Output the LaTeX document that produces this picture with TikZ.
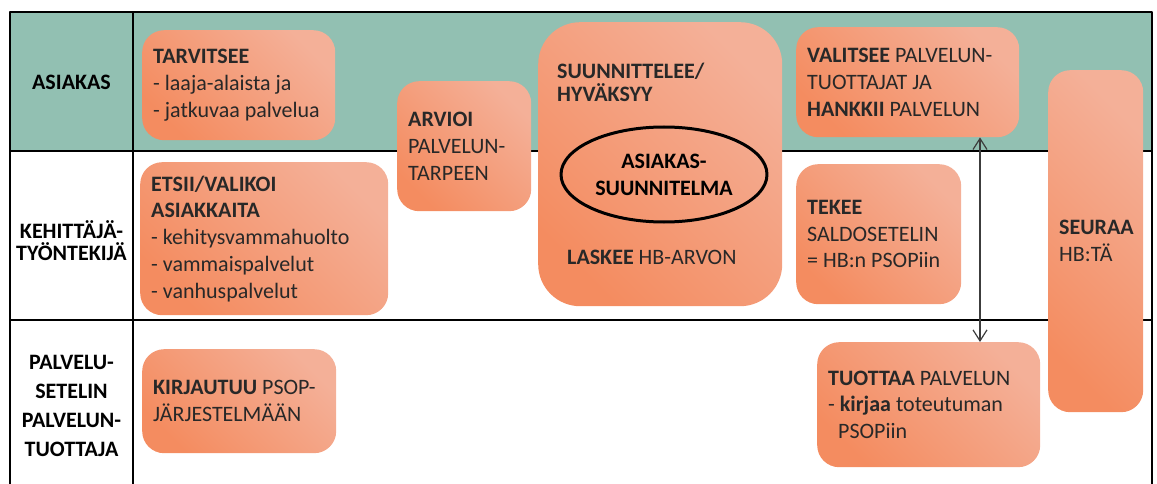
\documentclass[tikz,border=0pt]{standalone}
\usepackage{fontspec}
\setmainfont{Carlito}
\usetikzlibrary{arrows.meta,positioning,shapes.geometric}
\definecolor{tealband}{RGB}{146,192,178}
\definecolor{salmondark}{RGB}{244,140,96}
\definecolor{salmonlight}{RGB}{244,176,152}
\definecolor{inktext}{RGB}{40,40,40}
\definecolor{arrowgray}{RGB}{60,60,60}
\tikzset{
  gridline/.style={line width=2pt,black},
  rowlabel/.style={align=center,inner sep=0pt,text=black,font=\bfseries\fontsize{22}{22}\selectfont},
  taskbox/.style={anchor=north west,rounded corners=22pt,inner sep=0pt,
    left color=salmondark,right color=salmonlight,shading angle=135},
  tasktext/.style={align=left,inner sep=0pt,text=inktext,font=\fontsize{22}{26.7}\selectfont},
}
% name, left, top, width, height, text
\newcommand\mytask[6]
{
\node[taskbox,minimum width=#4pt,minimum height=#5pt] (#1) at (#2,#3) {};
\node[tasktext,right=11pt of #1.west] (#1-text) {#6};
}

\begin{document}
\begin{tikzpicture}[x=1pt,y=-1pt,line join=round]
\useasboundingbox (0,0) rectangle (1157,484);
% table
\fill[tealband] (10,12) rectangle (1152,151);
\draw[gridline] (10,490)--(10,12)--(1152,12)--(1152,490);
\draw[gridline] (133,12)--(133,490);
\draw[gridline] (10,151)--(1152,151);
\draw[gridline] (10,320)--(1152,320);
% row labels
\node[rowlabel] (asiakas) at (71.5,82) {ASIAKAS};
\node[rowlabel] (tyontekija) at (71.5,241) {KEHITTÄJÄ-\\TYÖNTEKIJÄ};
\node[rowlabel,font=\bfseries\fontsize{22}{29}\selectfont] (tuottaja) at (71.5,406) {PALVELU-\\SETELIN\\PALVELUN-\\TUOTTAJA};
% tasks
\mytask{tarvitsee}{142}{30}{193}{110}{\textbf{TARVITSEE}\\- laaja-alaista ja\\- jatkuvaa palvelua}
\mytask{etsii}{140}{162}{248}{153}{\textbf{ETSII/VALIKOI}\\\textbf{ASIAKKAITA}\\- kehitysvammahuolto\\- vammaispalvelut\\- vanhuspalvelut}
\mytask{arvioi}{397}{81}{134}{130}{\textbf{ARVIOI}\\PALVELUN-\\TARPEEN}
\mytask{valitsee}{796}{27}{223}{110}{\textbf{VALITSEE} PALVELUN-\\TUOTTAJAT JA\\\textbf{HANKKII} PALVELUN}
\mytask{tekee}{796}{164}{165}{140}{\textbf{TEKEE}\\SALDOSETELIN\\= HB:n PSOPiin}
\mytask{seuraa}{1048}{70}{95}{342}{\textbf{SEURAA}\\HB:TÄ}
\mytask{tuottaa}{817}{342}{223}{125}{\textbf{TUOTTAA} PALVELUN\\- \textbf{kirjaa} toteutuman\\\hspace*{10pt}PSOPiin}
\mytask{kirjautuu}{142}{349}{194}{104}{\textbf{KIRJAUTUU} PSOP-\\JÄRJESTELMÄÄN}
% plan box
\node[taskbox,rounded corners=42pt,minimum width=244pt,minimum height=284pt] (suunnittelee) at (538,22) {};
\node[tasktext,anchor=west,font=\bfseries\fontsize{22}{23}\selectfont] (suunnittelee-text) at (557,82) {SUUNNITTELEE/\\HYVÄKSYY};
\node[draw,ellipse,line width=3pt,minimum width=206pt,minimum height=95pt,inner sep=0pt,align=center,
  text=black,font=\bfseries\fontsize{22}{27}\selectfont] (suunnitelma) at (664,174.5) {ASIAKAS-\\SUUNNITELMA};
\node[tasktext,anchor=west] (laskee) at (567,257) {\textbf{LASKEE} HB-ARVON};
% arrow
\coordinate (arrowx) at (980,0);
\draw[arrowgray,line width=1.2pt,{Straight Barb[length=11pt,width=14pt]}-{Straight Barb[length=11pt,width=14pt]}]
  (valitsee.south -| arrowx)--(tuottaa.north -| arrowx);
\end{tikzpicture}
\end{document}
